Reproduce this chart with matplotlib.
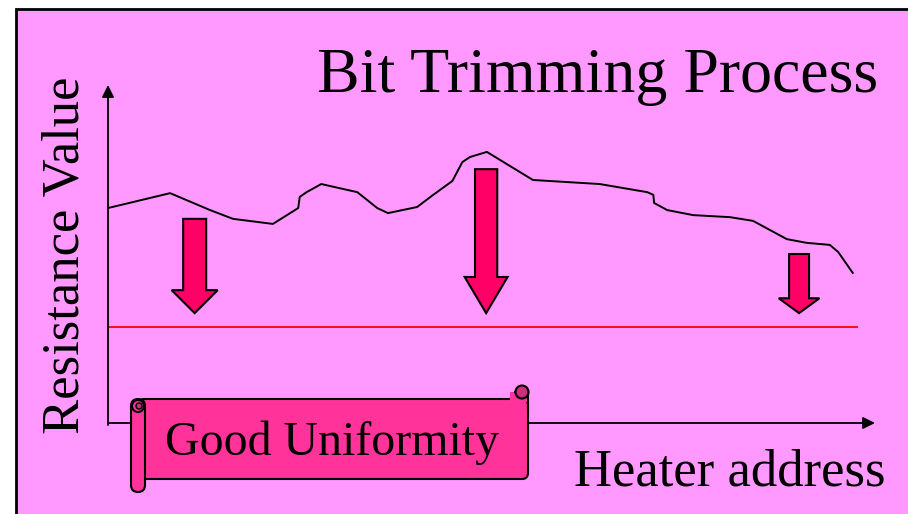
import matplotlib
matplotlib.use('Agg')
import matplotlib.pyplot as plt
from matplotlib.patches import Rectangle, FancyArrow, FancyBboxPatch, Circle

# resistance curve along the heater addresses (arbitrary units, 0-100)
address = [0, 8.1, 13.3, 16.3, 21.5, 24.8, 25.0, 25.9, 27.8, 32.5, 35.1, 36.5,
           40.3, 42.4, 44.9, 46.2, 47.2, 49.4, 55.4, 64.1, 70.3, 71.1, 71.2,
           72.9, 76.3, 81.1, 84.1, 88.5, 91.1, 94.1, 95.2, 97.1]
resistance = [63.6, 68.0, 63.0, 60.4, 58.9, 63.6, 66.9, 68.3, 70.7, 68.3, 63.6, 62.1,
              63.9, 67.5, 71.6, 77.2, 78.7, 80.2, 71.9, 70.7, 68.3, 67.5, 65.1,
              63.0, 61.5, 60.9, 59.8, 54.4, 53.3, 52.7, 50.6, 44.4]

# trimming target
target = 28.4
target_end = 97.7

# trimming arrows: position, start (resistance before trim)
arrow_x = [11.3, 49.3, 90.1]
arrow_top = [60.4, 75.1, 50.0]
arrow_shaft = [3.0, 2.9, 2.6]
arrow_head_w = [6.0, 5.6, 5.3]
arrow_head_l = [6.8, 10.7, 4.4]

pink = '#FF99FF'
arrow_col = '#FF0066'
scroll_col = '#FF3399'
serif = ['Liberation Serif', 'DejaVu Serif']

fig = plt.figure(figsize=(9.08, 5.14), dpi=100)

# background panel in pixel coordinates
bg = fig.add_axes([0, 0, 1, 1])
bg.set_xlim(0, 908)
bg.set_ylim(514, 0)
bg.axis('off')
bg.add_patch(Rectangle((16, 9), 900, 510, facecolor=pink, edgecolor='black', lw=2))

bg.text(598, 92, 'Bit Trimming Process', family=serif, fontsize=46, ha='center', va='baseline')
bg.text(66, 255, 'Resistance Value', family=serif, fontsize=38, rotation=90, ha='center', va='center')
bg.text(730, 485, 'Heater address', family=serif, fontsize=38, ha='center', va='baseline')

# data axes
ax = fig.add_axes([108 / 908, (514 - 423) / 514, 767 / 908, 338 / 514])
ax.set_xlim(0, 100)
ax.set_ylim(0, 100)
ax.axis('off')
ax.patch.set_alpha(0)

ax.annotate('', xy=(0, 1), xytext=(0, -0.006), xycoords='axes fraction',
            arrowprops=dict(arrowstyle='-|>', color='black', lw=1.3, mutation_scale=18, shrinkA=0, shrinkB=0))
ax.annotate('', xy=(1, 0), xytext=(0, 0), xycoords='axes fraction',
            arrowprops=dict(arrowstyle='-|>', color='black', lw=1.3, mutation_scale=18, shrinkA=0, shrinkB=0))

ax.plot(address, resistance, color='black', lw=1.4)
ax.plot([0, target_end], [target, target], color='red', lw=1.3)

for x, top, sw, hw, hl in zip(arrow_x, arrow_top, arrow_shaft, arrow_head_w, arrow_head_l):
    ax.add_patch(FancyArrow(x, top, 0, target + 4.1 - top, width=sw, head_width=hw, head_length=hl,
                            length_includes_head=True, facecolor=arrow_col, edgecolor='black', lw=1.5))

# scroll banner on top of the axis line
deco = fig.add_axes([0, 0, 1, 1])
deco.set_xlim(0, 908)
deco.set_ylim(514, 0)
deco.axis('off')
deco.patch.set_alpha(0)
deco.add_patch(FancyBboxPatch((138, 399), 390, 80, boxstyle='round,pad=0,rounding_size=6',
                              facecolor=scroll_col, edgecolor='black', lw=1.5, zorder=3))
deco.add_patch(Rectangle((510, 392), 18, 10, facecolor=scroll_col, edgecolor='none', zorder=3.5))
deco.plot([515, 528, 528], [392, 392, 410], color='black', lw=1.5, zorder=3.6)
deco.add_patch(Circle((522, 392), 6.5, facecolor='#C8307A', edgecolor='black', lw=1.5, zorder=4))
deco.add_patch(FancyBboxPatch((131, 399), 14, 93, boxstyle='round,pad=0,rounding_size=7',
                              facecolor=scroll_col, edgecolor='black', lw=1.5, zorder=5))
deco.add_patch(Circle((138, 406), 6, facecolor=scroll_col, edgecolor='black', lw=1.5, zorder=6))
deco.add_patch(Circle((139, 406), 3, facecolor='#C8307A', edgecolor='black', lw=1, zorder=6))
deco.text(332, 455, 'Good Uniformity', family=serif, fontsize=34.5, ha='center', va='baseline', zorder=7)

fig.savefig('out.png', dpi=100)
